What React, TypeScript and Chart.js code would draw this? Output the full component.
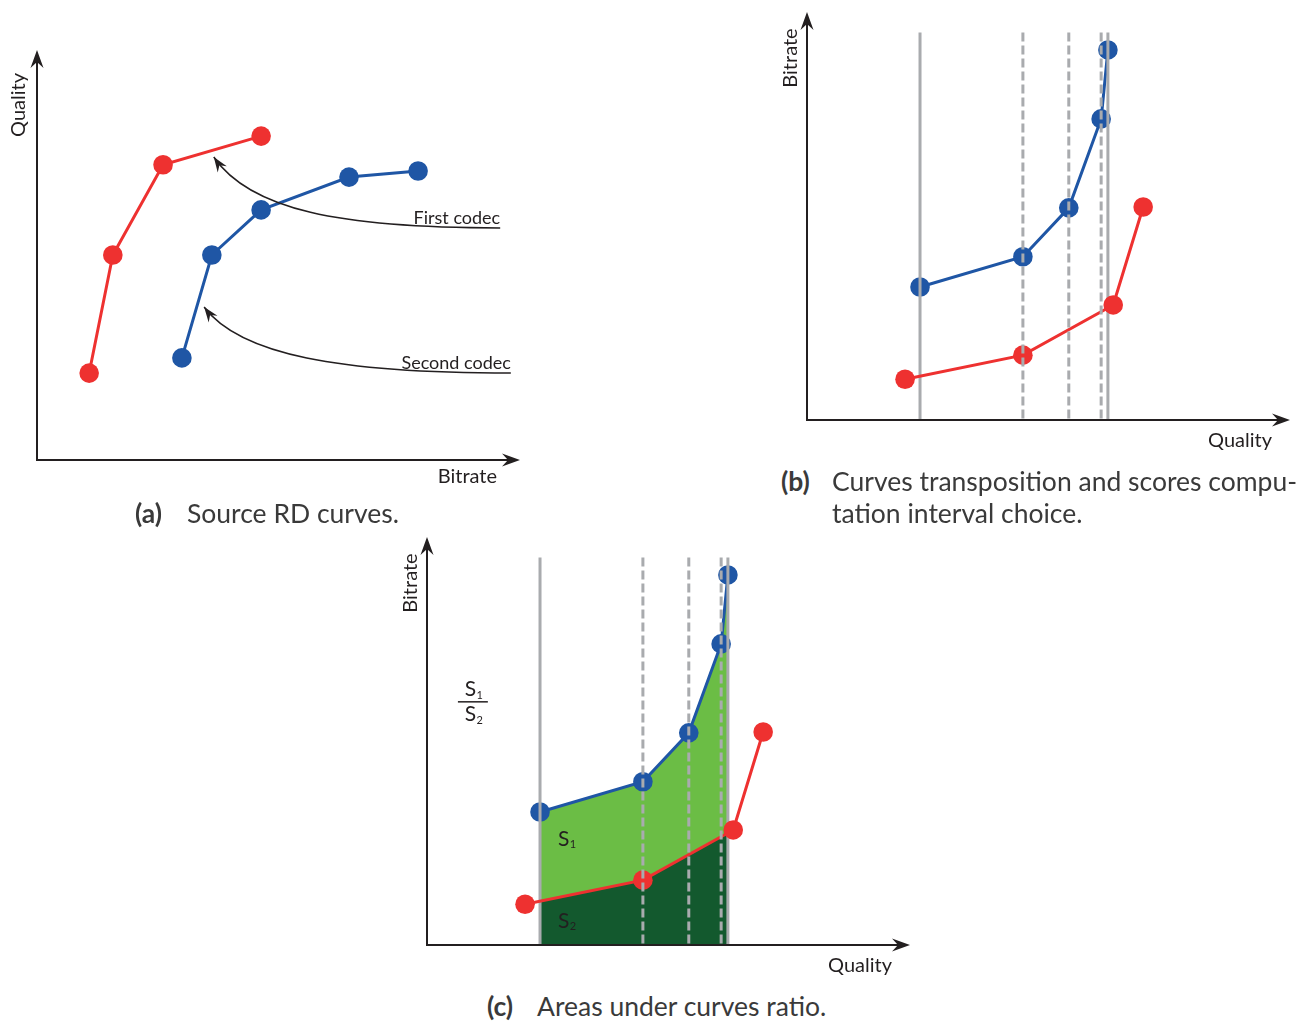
import React, { useEffect, useRef } from 'react';
import { Chart, registerables } from 'chart.js';

Chart.register(...registerables);

// ---------------- Data (arbitrary units; each axis runs 0 → 100) ----------------
// (a) Source RD curves: x = bitrate, y = quality
const firstCodecRate = [10.8, 15.7, 26.1, 46.4];
const firstCodecQuality = [21.2, 50.0, 72.0, 79.0];
const secondCodecRate = [30.0, 36.2, 46.4, 64.6, 78.9];
const secondCodecQuality = [24.9, 50.0, 61.0, 69.0, 70.5];

// (b), (c) Transposed curves: x = quality, y = bitrate
const firstCodecQualityT = [20.3, 44.7, 63.4, 69.6];
const firstCodecRateT = [10.0, 15.9, 28.2, 52.2];
const secondCodecQualityT = [23.4, 44.7, 54.2, 60.9, 62.3];
const secondCodecRateT = [32.6, 40.0, 52.0, 73.8, 90.7];

// Interval guides (indexes into secondCodecQualityT); solid = interval bounds
const guideSolid = [0, 4];
const guideDashed = [1, 2, 3];
const guideTop = 95;

// Callouts in panel (a): label + bezier anchor points (data units)
const calloutLabels = ['First codec', 'Second codec'];
const calloutPaths: number[][][] = [
  [[95.9, 56.6], [62.7, 56.6], [44.1, 61.0], [36.6, 73.9]],
  [[98.1, 21.2], [62.7, 21.2], [42.0, 25.6], [34.6, 37.3]],
];

// Text
const axisLabelsA = { x: 'Bitrate', y: 'Quality' };
const axisLabelsB = { x: 'Quality', y: 'Bitrate' };
const captionTags = ['(a)', '(b)', '(c)'];
const captionA = ['Source RD curves.'];
const captionB = ['Curves transposition and scores compu-', 'tation interval choice.'];
const captionC = ['Areas under curves ratio.'];
const areaLabels = ['S', '1', '2'];

// Styles
const RED = '#ee3130';
const BLUE = '#1f56a5';
const GRAY = '#a9abae';
const INK = '#231f20';
const LIGHT_GREEN = '#6bbd45';
const DARK_GREEN = '#13592e';
const CAPTION = '#3a3a3a';

const pts = (xs: number[], ys: number[]) => xs.map((x, i) => ({ x, y: ys[i] }));

function curve(xs: number[], ys: number[], color: string) {
  return {
    data: pts(xs, ys),
    showLine: true,
    borderColor: color,
    backgroundColor: color,
    pointBackgroundColor: color,
    pointBorderWidth: 0,
    pointRadius: 9.8,
    pointHoverRadius: 9.8,
    borderWidth: 3,
    tension: 0,
    fill: false,
    clip: false,
  };
}

function guide(x: number, dashed: boolean) {
  return {
    data: [{ x, y: guideTop }, { x, y: 0 }],
    showLine: true,
    borderColor: GRAY,
    borderWidth: 3,
    borderDash: dashed ? [9, 4] : [],
    pointRadius: 0,
    pointHoverRadius: 0,
    fill: false,
    clip: false,
  };
}

function arrowHead(ctx: CanvasRenderingContext2D, tx: number, ty: number, dx: number, dy: number, len: number, half: number, notch: number) {
  const n = Math.hypot(dx, dy);
  dx /= n; dy /= n;
  const px = -dy, py = dx;
  ctx.beginPath();
  ctx.moveTo(tx, ty);
  ctx.lineTo(tx - dx * len + px * half, ty - dy * len + py * half);
  ctx.lineTo(tx - dx * notch, ty - dy * notch);
  ctx.lineTo(tx - dx * len - px * half, ty - dy * len - py * half);
  ctx.closePath();
  ctx.fill();
}

function axesPlugin(labels: { x: string; y: string }, xOff: [number, number], yOff: [number, number]) {
  return {
    id: 'axesArrows',
    afterDatasetsDraw(chart: any) {
      const { ctx, chartArea: a } = chart;
      ctx.save();
      ctx.strokeStyle = INK;
      ctx.fillStyle = INK;
      ctx.lineWidth = 2;
      ctx.beginPath();
      ctx.moveTo(a.left, a.top + 10);
      ctx.lineTo(a.left, a.bottom);
      ctx.lineTo(a.right - 10, a.bottom);
      ctx.stroke();
      arrowHead(ctx, a.left, a.top, 0, -1, 18, 6.5, 12);
      arrowHead(ctx, a.right, a.bottom, 1, 0, 18, 6.5, 12);
      ctx.font = '20px Lato';
      ctx.textBaseline = 'alphabetic';
      ctx.textAlign = 'right';
      ctx.fillText(labels.x, a.right - xOff[0], a.bottom + xOff[1]);
      ctx.translate(a.left - yOff[0], a.top + yOff[1]);
      ctx.rotate(-Math.PI / 2);
      ctx.textAlign = 'center';
      ctx.fillText(labels.y, 0, 0);
      ctx.restore();
    },
  };
}

const calloutPlugin = {
  id: 'callouts',
  afterDatasetsDraw(chart: any) {
    const { ctx, scales } = chart;
    const X = (v: number) => scales.x.getPixelForValue(v);
    const Y = (v: number) => scales.y.getPixelForValue(v);
    ctx.save();
    ctx.strokeStyle = INK;
    ctx.fillStyle = INK;
    ctx.lineWidth = 1.5;
    calloutPaths.forEach((p, i) => {
      const q = p.map(([x, y]) => [X(x), Y(y)]);
      ctx.beginPath();
      ctx.moveTo(q[0][0], q[0][1]);
      ctx.bezierCurveTo(q[1][0], q[1][1], q[2][0], q[2][1], q[3][0], q[3][1]);
      ctx.stroke();
      arrowHead(ctx, q[3][0], q[3][1], q[3][0] - q[2][0], q[3][1] - q[2][1], 15, 5.5, 10);
      ctx.font = '18px Lato';
      ctx.textAlign = 'right';
      ctx.textBaseline = 'alphabetic';
      ctx.fillText(calloutLabels[i], q[0][0], q[0][1] - 4);
    });
    ctx.restore();
  },
};

function drawS(ctx: CanvasRenderingContext2D, x: number, y: number, sub: string) {
  ctx.font = '21px Lato';
  ctx.textAlign = 'left';
  ctx.textBaseline = 'alphabetic';
  ctx.fillText(areaLabels[0], x, y);
  const w = ctx.measureText(areaLabels[0]).width;
  ctx.font = '11px Lato';
  ctx.fillText(sub, x + w + 0.5, y + 2.5);
}

const areaPlugin = {
  id: 'areas',
  beforeDatasetsDraw(chart: any) {
    const { ctx, chartArea: a, scales } = chart;
    const X = (v: number) => scales.x.getPixelForValue(v);
    const Y = (v: number) => scales.y.getPixelForValue(v);
    const x0 = X(secondCodecQualityT[guideSolid[0]]);
    const x1 = X(secondCodecQualityT[guideSolid[1]]);
    const yb = Y(0);
    const poly = (xs: number[], ys: number[], color: string) => {
      ctx.beginPath();
      ctx.moveTo(X(xs[0]), Y(ys[0]));
      for (let i = 1; i < xs.length; i++) ctx.lineTo(X(xs[i]), Y(ys[i]));
      ctx.lineTo(X(xs[xs.length - 1]), yb);
      ctx.lineTo(X(xs[0]), yb);
      ctx.closePath();
      ctx.fillStyle = color;
      ctx.fill();
    };
    ctx.save();
    ctx.beginPath();
    ctx.rect(x0, a.top - 40, x1 - x0, yb - a.top + 40);
    ctx.clip();
    poly(secondCodecQualityT, secondCodecRateT, LIGHT_GREEN);
    poly(firstCodecQualityT, firstCodecRateT, DARK_GREEN);
    ctx.restore();

    ctx.save();
    ctx.fillStyle = INK;
    // labels inside the areas
    drawS(ctx, X(27.1), Y(24.3), areaLabels[1]);
    drawS(ctx, X(27.1), Y(4.2), areaLabels[2]);
    // ratio S1 / S2
    const fx = X(7.8);
    drawS(ctx, fx, Y(61.0), areaLabels[1]);
    drawS(ctx, fx, Y(54.9), areaLabels[2]);
    ctx.strokeStyle = INK;
    ctx.lineWidth = 1.5;
    ctx.beginPath();
    ctx.moveTo(X(6.4), Y(59.6));
    ctx.lineTo(X(12.6), Y(59.6));
    ctx.stroke();
    ctx.restore();
  },
};

function baseOptions(padding: any) {
  return {
    responsive: false,
    maintainAspectRatio: false,
    animation: false,
    devicePixelRatio: 1,
    events: [],
    layout: { padding },
    plugins: {
      legend: { display: false },
      tooltip: { enabled: false },
      title: { display: false },
    },
    scales: {
      x: { type: 'linear', min: 0, max: 100, display: false },
      y: { type: 'linear', min: 0, max: 100, display: false },
    },
  };
}

function transposedDatasets() {
  return [
    ...guideDashed.map((i) => guide(secondCodecQualityT[i], true)),
    curve(firstCodecQualityT, firstCodecRateT, RED),
    ...guideSolid.map((i) => guide(secondCodecQualityT[i], false)),
    curve(secondCodecQualityT, secondCodecRateT, BLUE),
  ];
}

const buildA = () => ({
  type: 'scatter',
  data: {
    datasets: [
      curve(firstCodecRate, firstCodecQuality, RED),
      curve(secondCodecRate, secondCodecQuality, BLUE),
    ],
  },
  options: baseOptions({ left: 37, top: 20, right: 20, bottom: 50 }),
  plugins: [calloutPlugin, axesPlugin(axisLabelsA, [23, 23], [12, 55])],
});

const buildB = () => ({
  type: 'scatter',
  data: { datasets: transposedDatasets() },
  options: baseOptions({ left: 47, top: 12, right: 18, bottom: 40 }),
  plugins: [axesPlugin(axisLabelsB, [18, 27], [10, 46])],
});

const buildC = () => ({
  type: 'scatter',
  data: { datasets: transposedDatasets() },
  options: baseOptions({ left: 47, top: 12, right: 18, bottom: 40 }),
  plugins: [areaPlugin, axesPlugin(axisLabelsB, [18, 27], [10, 46])],
});

function ChartCanvas({ left, top, width, height, build }: any) {
  const ref = useRef<HTMLCanvasElement>(null);
  useEffect(() => {
    const chart = new Chart(ref.current as HTMLCanvasElement, build() as any);
    return () => chart.destroy();
  }, []);
  return (
    <canvas
      ref={ref}
      width={width}
      height={height}
      style={{ position: 'absolute', left, top, width, height }}
    />
  );
}

function Caption({ tag, lines, tagLeft, textLeft, baseline }: any) {
  const top = baseline - 26;
  const common: any = {
    position: 'absolute',
    top,
    fontFamily: 'Lato',
    fontSize: 26.5,
    lineHeight: '32px',
    color: CAPTION,
    whiteSpace: 'nowrap',
  };
  return (
    <>
      <div style={{ ...common, left: tagLeft, fontWeight: 700 }}>{tag}</div>
      <div style={{ ...common, left: textLeft }}>
        {lines.map((l: string, i: number) => (
          <div key={i}>{l}</div>
        ))}
      </div>
    </>
  );
}

export default function App() {
  return (
    <div
      style={{
        position: 'absolute',
        left: 0,
        top: 0,
        width: 1308,
        height: 1021,
        background: '#ffffff',
        overflow: 'hidden',
      }}
    >
      <ChartCanvas left={0} top={30} width={540} height={480} build={buildA} />
      <ChartCanvas left={760} top={0} width={548} height={460} build={buildB} />
      <ChartCanvas left={380} top={525} width={548} height={460} build={buildC} />
      <Caption tag={captionTags[0]} lines={captionA} tagLeft={135} textLeft={187} baseline={523} />
      <Caption tag={captionTags[1]} lines={captionB} tagLeft={781} textLeft={832} baseline={491} />
      <Caption tag={captionTags[2]} lines={captionC} tagLeft={487} textLeft={537} baseline={1016} />
    </div>
  );
}
